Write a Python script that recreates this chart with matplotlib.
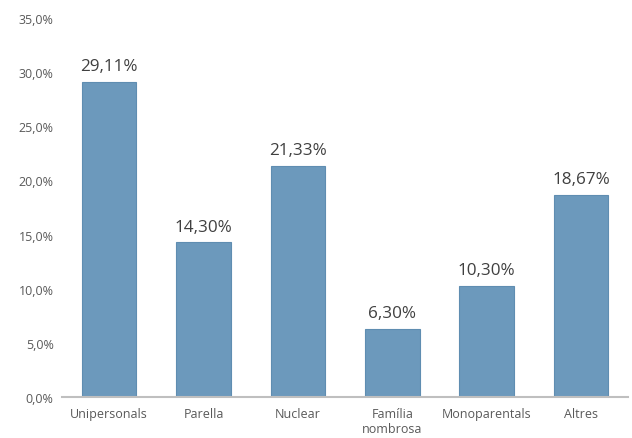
import matplotlib.pyplot as plt
from matplotlib.ticker import FuncFormatter

categories = ['Unipersonals', 'Parella', 'Nuclear', 'Família\nnombrosa', 'Monoparentals', 'Altres']
values = [29.11, 14.30, 21.33, 6.30, 10.30, 18.67]

plt.rcParams['font.family'] = ['Open Sans', 'DejaVu Sans']

fig = plt.figure(figsize=(6.32, 4.39), dpi=100)
ax = fig.add_axes([0.098, 0.093, 0.896, 0.864])

x = range(len(categories))
ax.bar(x, values, width=0.58, color='#6c99bc', edgecolor='#5f8db1', linewidth=0.8)

for i, v in zip(x, values):
    ax.text(i, v + 0.7, f'{v:.2f}%'.replace('.', ','), ha='center', va='bottom',
            fontsize=12.3, color='#404040')

ax.set_ylim(0, 35)
ax.set_xlim(-0.5, len(categories) - 0.5)
ax.set_yticks(range(0, 36, 5))
ax.yaxis.set_major_formatter(FuncFormatter(lambda v, p: f'{v:.1f}%'.replace('.', ',')))
ax.set_xticks(list(x))
ax.set_xticklabels(categories)
ax.tick_params(axis='both', length=0, labelsize=9, colors='#595959')
ax.tick_params(axis='x', pad=7)
ax.tick_params(axis='y', pad=6)

for s in ['top', 'right', 'left']:
    ax.spines[s].set_visible(False)
ax.spines['bottom'].set_color('#bfbfbf')
ax.spines['bottom'].set_linewidth(1.5)

fig.savefig('out.png', dpi=100)
